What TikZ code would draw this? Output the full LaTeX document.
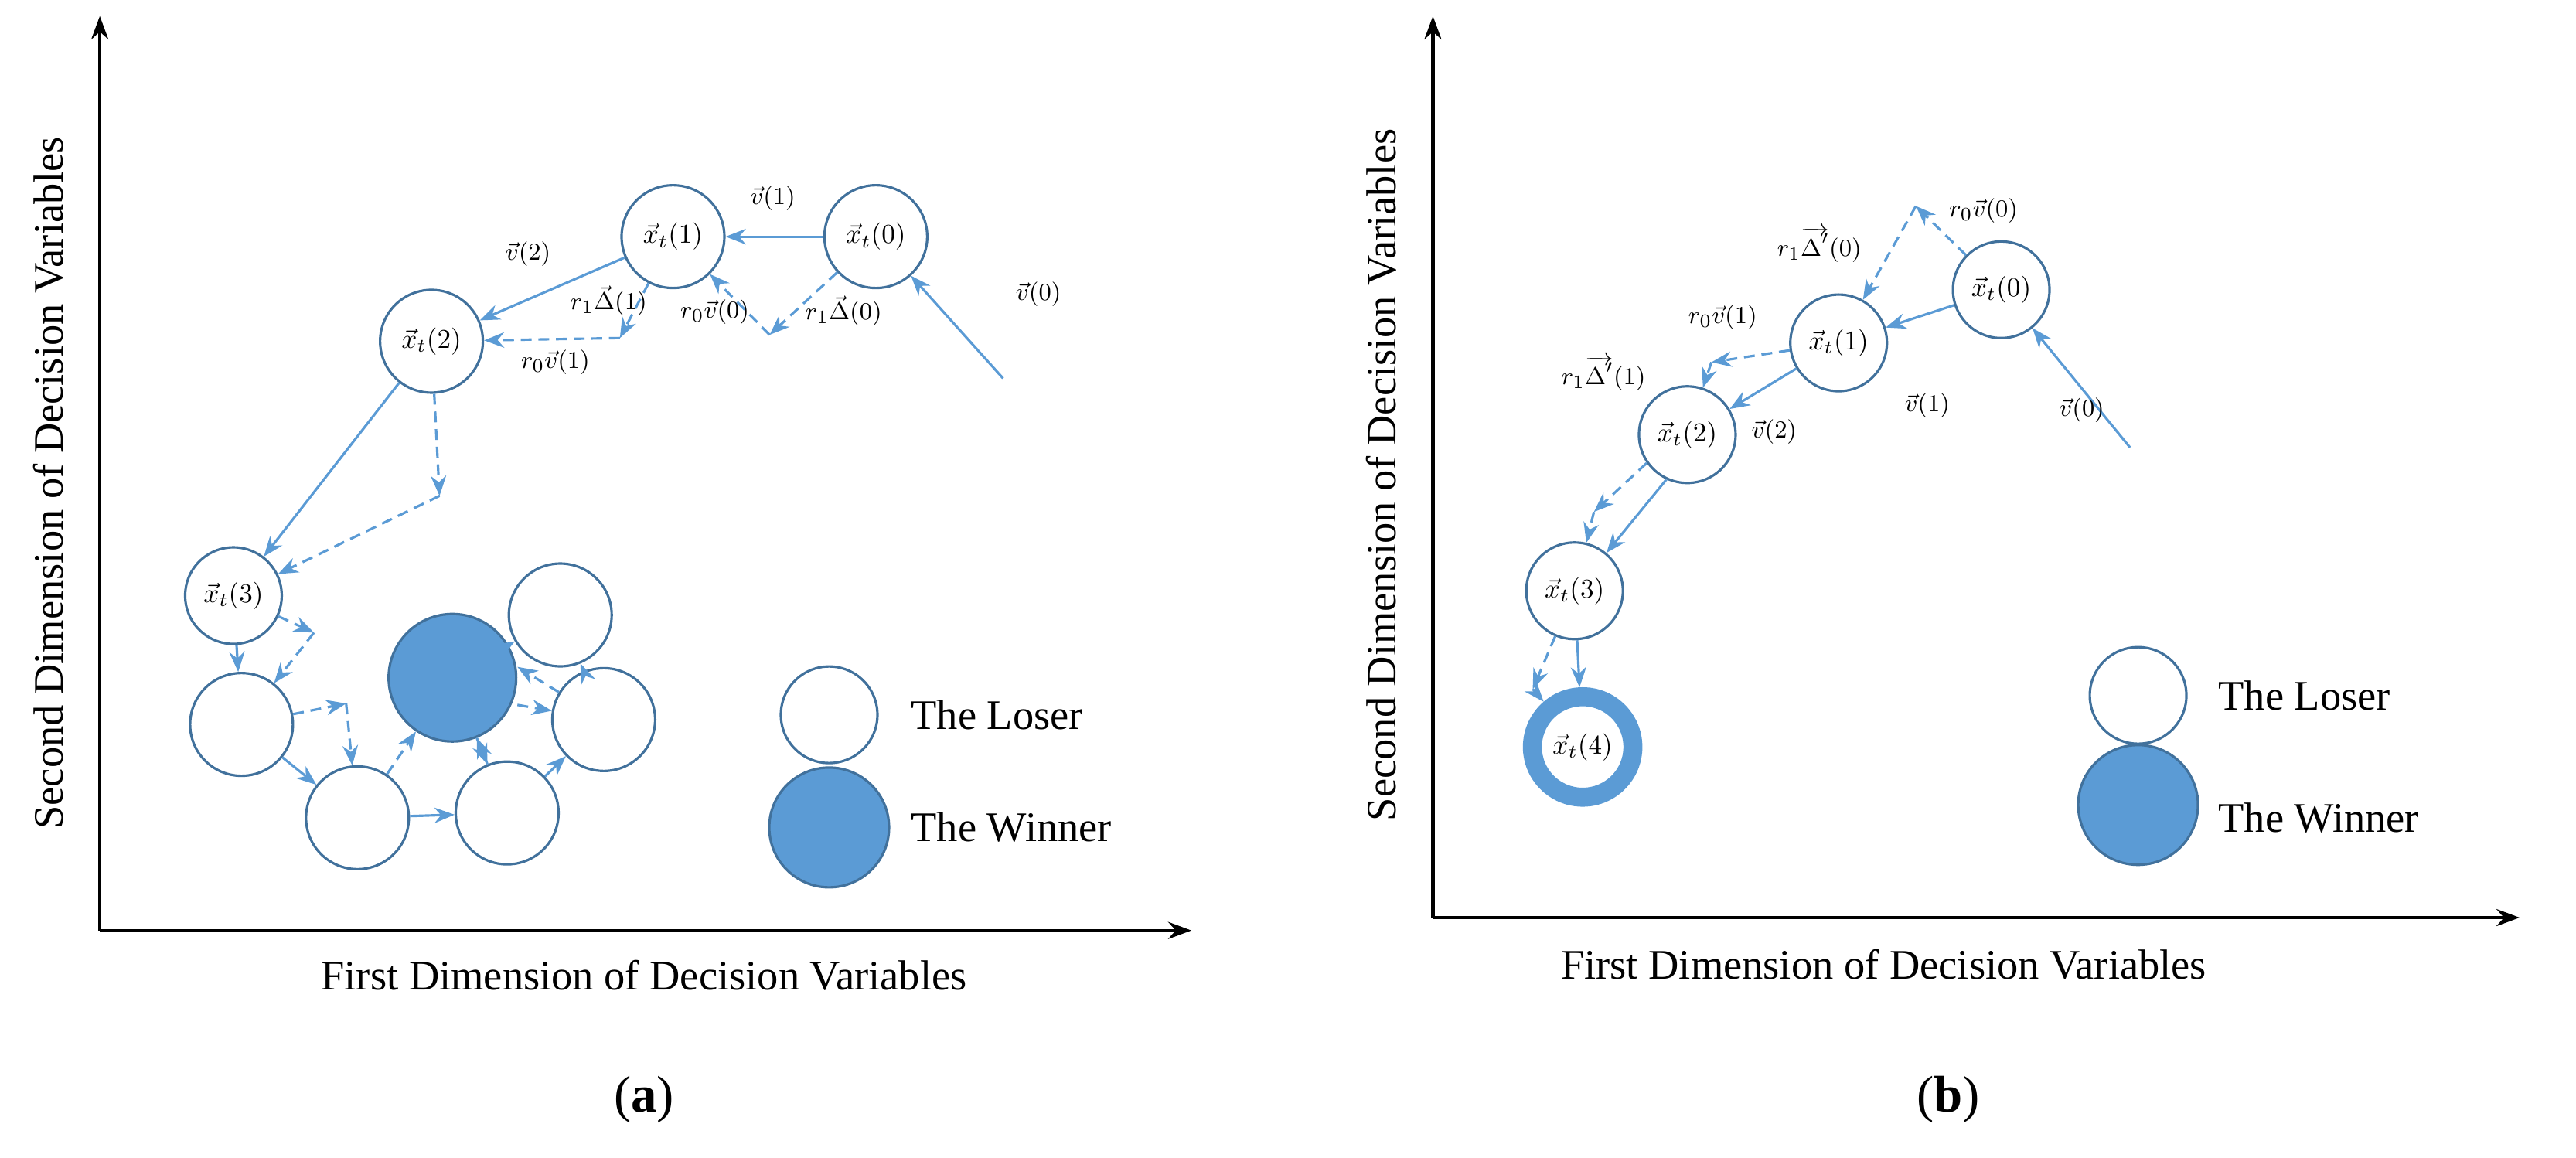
\documentclass[tikz,border=0pt]{standalone}
\usepackage{fontspec}
\setmainfont{Liberation Serif}
\usetikzlibrary{arrows.meta}
\definecolor{ln}{HTML}{5B9BD5}
\definecolor{ol}{HTML}{41719C}
\begin{document}
\begin{tikzpicture}[x=0.2083mm,y=-0.2083mm,
 st/.style={circle,draw=ol,line width=0.9pt,fill=white,inner sep=0pt,minimum size=13.3mm,font=\fontsize{10}{12}\selectfont},
 sm/.style={st,minimum size=12.5mm},
 win/.style={circle,draw=ol,line width=0.9pt,fill=ln,inner sep=0pt,minimum size=16.5mm},
 los/.style={st,minimum size=12.5mm},
 ar/.style={draw=ln,line width=0.9pt,-{Stealth[length=2.6mm,width=2mm]}},
 da/.style={ar,dashed,dash pattern=on 4pt off 2.5pt},
 lb/.style={font=\fontsize{9.5}{11}\selectfont,inner sep=1pt},
 tx/.style={font=\fontsize{15.5}{18}\selectfont},
 axis/.style={draw=black,line width=1.2pt,-{Stealth[length=3mm,width=2.2mm]}}]
\useasboundingbox (0,0) rectangle (1600,719);
% ---------- panel a ----------
\coordinate (ao) at (62,578);
\coordinate (ay) at (62,10);
\coordinate (ax) at (740,578);
\draw[axis] (ao) -- (ay);
\draw[axis] (ao) -- (ax);
\node[tx,rotate=90] (aylab) at (30,300) {Second Dimension of Decision Variables};
\node[tx] (axlab) at (400,606) {First Dimension of Decision Variables};
\node[font=\fontsize{19}{22}\selectfont] (alab) at (400,683) {(\textbf{a})};

\node[st] (a0) at (544,147) {$\vec{x}_t(0)$};
\node[st] (a1) at (418,147) {$\vec{x}_t(1)$};
\node[st] (a2) at (268,212) {$\vec{x}_t(2)$};
\node[sm] (a3) at (145,370) {$\vec{x}_t(3)$};
\coordinate (av0) at (623,235);
\coordinate (p0) at (478,208);
\coordinate (p1) at (385,210);
\coordinate (p2) at (273,308);
\draw[ar] (av0) -- (a0);
\draw[ar] (a0) -- (a1);
\draw[ar] (a1) -- (a2);
\draw[ar] (a2) -- (a3);
\draw[da] (a0) -- (p0);
\draw[da] (p0) -- (a1);
\draw[da] (a1) -- (p1);
\draw[da] (p1) -- (a2);
\draw[da] (a2) -- (p2);
\draw[da] (p2) -- (a3);
\node[lb] (lv1) at (480,123) {$\vec{v}(1)$};
\node[lb] (lv2) at (328,158) {$\vec{v}(2)$};
\node[lb] (ld1) at (378,187) {$r_1\vec{\Delta}(1)$};
\node[lb] (lr0) at (444,194) {$r_0\vec{v}(0)$};
\node[lb] (ld0) at (524,193) {$r_1\vec{\Delta}(0)$};
\node[lb] (lr1) at (345,225) {$r_0\vec{v}(1)$};
\node[lb] (lv0) at (645,183) {$\vec{v}(0)$};
% cluster
\node[st] (cA) at (150,450) {};
\node[st] (cB) at (222,508) {};
\node[st] (cC) at (315,505) {};
\node[st] (cD) at (375,447) {};
\node[st] (cE) at (348,382) {};
\node[win] (cW) at (281,421) {};
\coordinate (q0) at (195,393);
\coordinate (q1) at (215,437);
\draw[ar] (a3) -- (cA);
\draw[da] (a3) -- (q0);
\draw[da] (q0) -- (cA);
\draw[ar] (cA) -- (cB);
\draw[da] (cA) -- (q1);
\draw[da] (q1) -- (cB);
\draw[ar] (cB) -- (cC);
\draw[da] (cB) -- (cW);
\draw[da] (cW) -- (cC);
\draw[ar] (cC) -- (cD);
\draw[da] (cC) -- (cW);
\draw[da] ([yshift=-10]cW.east) -- (cD);
\draw[da] (cD) -- ([yshift=4]cW.east);
\draw[da] (cW) -- (cE);
\draw[ar] (cD) -- (cE);
% legend a
\node[los] (aL) at (515,444) {};
\node[win,minimum size=15.5mm] (aW) at (515,514) {};
\node[tx,anchor=west] (aLt) at (560,444) {The Loser};
\node[tx,anchor=west] (aWt) at (560,514) {The Winner};
% ---------- panel b ----------
\coordinate (bo) at (890,570);
\coordinate (by) at (890,10);
\coordinate (bx) at (1565,570);
\draw[axis] (bo) -- (by);
\draw[axis] (bo) -- (bx);
\node[tx,rotate=90] (bylab) at (858,295) {Second Dimension of Decision Variables};
\node[tx] (bxlab) at (1170,599) {First Dimension of Decision Variables};
\node[font=\fontsize{19}{22}\selectfont] (blab) at (1210,683) {(\textbf{b})};

\node[sm] (b0) at (1243,180) {$\vec{x}_t(0)$};
\node[sm] (b1) at (1142,213) {$\vec{x}_t(1)$};
\node[sm] (b2) at (1048,270) {$\vec{x}_t(2)$};
\node[sm] (b3) at (978,367) {$\vec{x}_t(3)$};
\node[circle,draw=ln,line width=7pt,inner sep=0pt,minimum size=13mm,font=\fontsize{10}{12}\selectfont] (b4) at (983,464) {$\vec{x}_t(4)$};
\coordinate (bv0) at (1323,278);
\coordinate (s0) at (1190,128);
\coordinate (s1) at (1063,225);
\coordinate (s2) at (990,318);
\coordinate (s3) at (952,428);
\draw[ar] (bv0) -- (b0);
\draw[ar] (b0) -- (b1);
\draw[ar] (b1) -- (b2);
\draw[ar] (b2.-115) -- (b3.50);
\draw[ar] (b3) -- (b4);
\draw[da] (b0) -- (s0);
\draw[da] (s0) -- (b1);
\draw[da] (b1) -- (s1);
\draw[da] (s1) -- (b2);
\draw[da] (b2.-145) -- (s2);
\draw[da] (s2) -- (b3);
\draw[da] (b3) -- (s3);
\draw[da] (s3) -- (b4);
\node[lb] (mv0) at (1293,255) {$\vec{v}(0)$};
\node[lb] (mv1) at (1197,252) {$\vec{v}(1)$};
\node[lb] (mv2) at (1102,268) {$\vec{v}(2)$};
\node[lb] (mr0) at (1232,131) {$r_0\vec{v}(0)$};
\node[lb] (md0) at (1130,152) {$r_1\overrightarrow{\Delta'}(0)$};
\node[lb] (mr1) at (1070,197) {$r_0\vec{v}(1)$};
\node[lb] (md1) at (996,232) {$r_1\overrightarrow{\Delta'}(1)$};
% legend b
\node[los] (bL) at (1328,432) {};
\node[win,minimum size=15.5mm] (bW) at (1328,500) {};
\node[tx,anchor=west] (bLt) at (1372,432) {The Loser};
\node[tx,anchor=west] (bWt) at (1372,508) {The Winner};
\end{tikzpicture}
\end{document}
